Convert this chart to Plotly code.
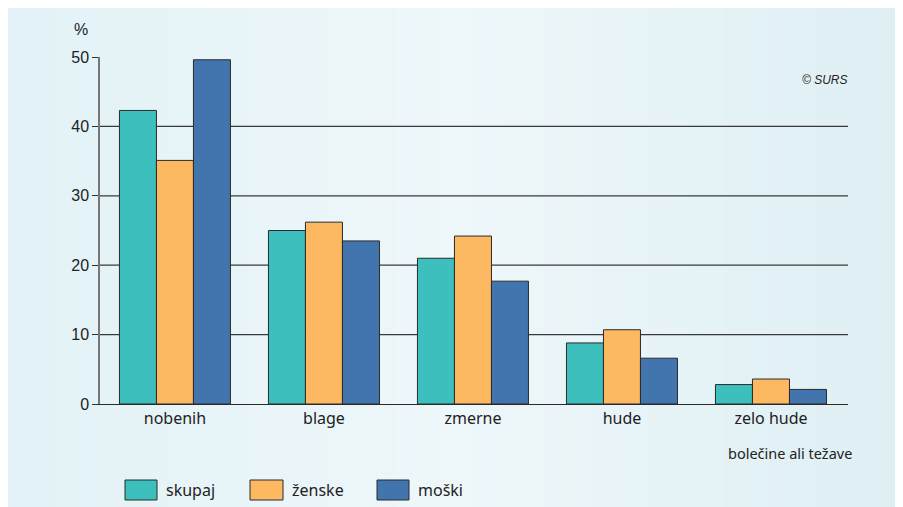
import plotly.graph_objects as go

categories = ["nobenih", "blage", "zmerne", "hude", "zelo hude"]
series_names = ["skupaj", "ženske", "moški"]
skupaj = [42.3, 25.0, 21.0, 8.8, 2.8]
zenske = [35.1, 26.2, 24.2, 10.7, 3.6]
moski = [49.6, 23.5, 17.7, 6.6, 2.1]
y_ticks = [0, 10, 20, 30, 40, 50]
grid_vals = [10, 20, 30, 40]
colors = ["#3dbfbd", "#fdb862", "#4275ad"]

OFF = 8  # page offset of the figure inside the window
W, H = 903, 507
L, T = 100 - OFF, 57 - OFF
R = W - (848 - OFF)
B = H - (404 - OFF)
pw, ph = W - L - R, H - T - B

def px2paper_x(sx):
    return (sx - OFF - L) / pw

def px2paper_y(sy):
    return (H - B - (sy - OFF)) / ph

fig = go.Figure()
for name, vals, col in zip(series_names, [skupaj, zenske, moski], colors):
    fig.add_trace(go.Bar(
        x=categories, y=vals, name=name,
        marker=dict(color=col, line=dict(color="#2a2a2a", width=1)),
        showlegend=False,
    ))

shapes = []
# soft horizontal gradient of the panel
stops = [(0.0, (0xe2, 0xf2, 0xf6)), (0.5, (0xee, 0xf7, 0xfa)), (1.0, (0xde, 0xef, 0xf4))]
N = 60
def interp(t):
    for (t0, c0), (t1, c1) in zip(stops[:-1], stops[1:]):
        if t0 <= t <= t1:
            f = (t - t0) / (t1 - t0)
            return tuple(round(a + (b - a) * f) for a, b in zip(c0, c1))
    return stops[-1][1]
for i in range(N):
    sx0 = OFF + (903 - OFF) * i / N
    sx1 = OFF + (903 - OFF) * (i + 1) / N + 1
    c = interp((i + 0.5) / N)
    shapes.append(dict(type="rect", xref="paper", yref="paper", layer="below",
                       x0=px2paper_x(sx0), x1=px2paper_x(sx1),
                       y0=px2paper_y(520), y1=px2paper_y(OFF),
                       fillcolor="rgb(%d,%d,%d)" % c, line=dict(width=0)))
# gridlines
for g in grid_vals:
    shapes.append(dict(type="line", xref="paper", yref="y", layer="below",
                       x0=0, x1=1, y0=g, y1=g, line=dict(color="#3a3a3a", width=1.2)))

annotations = []
# custom legend
leg_boxes = [(125, 157, 167), (250, 283, 293), (377, 409, 419)]
for (bx0, bx1, tx), name, col in zip(leg_boxes, series_names, colors):
    shapes.append(dict(type="rect", xref="paper", yref="paper",
                       x0=px2paper_x(bx0), x1=px2paper_x(bx1),
                       y0=px2paper_y(500), y1=px2paper_y(480),
                       fillcolor=col, line=dict(color="#2a2a2a", width=1)))
    annotations.append(dict(xref="paper", yref="paper", x=px2paper_x(tx - 3), y=px2paper_y(490),
                            text=name, showarrow=False, xanchor="left", yanchor="middle",
                            font=dict(family="Noto Sans", size=16, color="#222")))

annotations.append(dict(xref="paper", yref="paper", x=px2paper_x(90), y=px2paper_y(30),
                        text="%", showarrow=False, xanchor="right", yanchor="middle",
                        font=dict(family="Liberation Sans", size=16, color="#222")))
annotations.append(dict(xref="paper", yref="paper", x=px2paper_x(850), y=px2paper_y(80),
                        text="<i>© SURS</i>", showarrow=False, xanchor="right", yanchor="middle",
                        font=dict(family="Liberation Sans", size=12, color="#222")))
annotations.append(dict(xref="paper", yref="paper", x=px2paper_x(854), y=px2paper_y(453),
                        text="bolečine ali težave", showarrow=False, xanchor="right", yanchor="middle",
                        font=dict(family="Noto Sans", size=14.5, color="#222")))

fig.update_layout(
    width=W, height=H,
    margin=dict(l=L, r=R, t=T, b=B),
    paper_bgcolor="#e6f4f7", plot_bgcolor="rgba(0,0,0,0)",
    barmode="group", bargap=0.255, bargroupgap=0,
    shapes=shapes, annotations=annotations,
    xaxis=dict(range=[-0.503, 4.517], showgrid=False, showline=True, linecolor="#2a2a2a",
               linewidth=1.2, ticks="", tickfont=dict(family="Noto Sans", size=16, color="#222"),
               fixedrange=True),
    yaxis=dict(range=[0, 50], tickvals=y_ticks, showgrid=False, showline=True,
               linecolor="#777", linewidth=1.5, ticks="outside", ticklen=6, tickcolor="#333",
               tickfont=dict(family="Liberation Sans", size=16, color="#222"),
               zeroline=False, fixedrange=True),
)

fig.write_html("out.html")
